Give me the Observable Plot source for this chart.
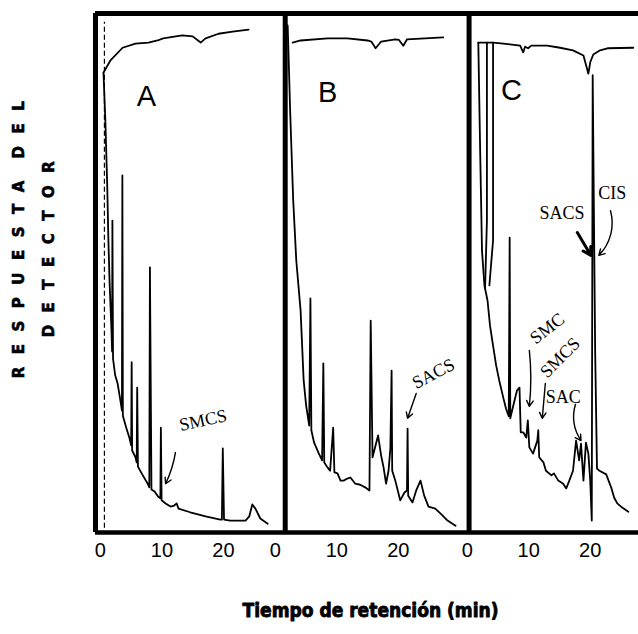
<!DOCTYPE html>
<html>
<head>
<meta charset="utf-8">
<script src="https://cdn.jsdelivr.net/npm/d3@7"></script>
<script src="https://cdn.jsdelivr.net/npm/@observablehq/plot@0.6"></script>
<style>
  html, body { margin: 0; padding: 0; background: #fff; overflow: hidden; }
</style>
</head>
<body>
<div id="chart"></div>
<script>
// Three chromatograms (A, B, C) recorded one after another on the same chart strip.
const runs = ["A", "B", "C"];
const tickMinutes = [0, 10, 20];

// Pen start stroke of each run, in run time (min)
const runStart = [-0.8, 1.6, 0.3];
// Dashed injection marker of run A (min)
const markA = [0.65];

// [retention time (min), detector response (% of full scale)]
const runAUpper = [[0.5,88.6],[1.6,90.9],[3.6,93.4],[5.7,94.2],[7.8,94.4],[9.3,94.8],[10.2,95.2],
  [13.3,95.8],[15.0,95.6],[16.3,94.4],[17.1,95.2],[19.2,96.1],[21.5,96.5],[24.1,96.9]];
const runALower = [[0.5,88.6],[0.8,79.4],[1.1,67.2],[1.3,56.2],[1.5,47.9],[1.8,38.9],[1.9,34.9],
  [1.95,60.1],[2.05,33.5],[2.4,30.3],[2.8,28.7],[3.25,25.4],[3.5,23.5],[3.57,68.8],[3.65,22.5],
  [4.2,20.2],[4.7,18.3],[5.0,16.8],[5.08,32.8],[5.16,15.8],[5.7,14.5],[5.9,13.5],[5.98,27.9],
  [6.1,12.7],[6.8,11.2],[7.6,9.6],[7.95,8.7],[8.05,51.1],[8.3,8.3],[8.8,7.9],[9.4,6.9],[9.75,6.6],
  [9.83,20.2],[9.95,6.2],[10.6,5.6],[11.4,5.0],[12.0,5.2],[12.4,5.6],[12.7,4.6],[14.6,3.9],
  [17.1,3.1],[19.5,2.5],[19.75,2.5],[19.9,16.2],[20.1,2.5],[21.1,2.3],[23.6,2.3],[24.2,3.1],
  [24.7,5.4],[25.2,4.6],[26.0,2.7],[27.2,1.7]];

const runBUpper = [[2.8,94.4],[4.1,94.8],[8.5,95.2],[11.7,95.2],[15.0,94.8],[15.6,94.6],[16.3,93.3],
  [17.2,94.6],[19.5,95.0],[20.1,94.9],[20.8,93.8],[21.4,95.0],[27.3,95.4]];
const runBLower = [[2.0,97.7],[2.1,93.8],[2.4,81.3],[2.9,64.0],[3.4,52.4],[4.1,42.8],[4.6,29.3],
  [5.0,24.5],[5.5,20.6],[5.7,45.1],[5.85,19.7],[6.3,17.3],[7.0,15.4],[7.6,13.9],[7.8,32.6],
  [7.95,13.5],[8.5,12.5],[8.9,11.9],[9.4,20.2],[9.6,11.6],[10.1,11.4],[10.6,10.0],[11.1,10.0],
  [11.7,10.4],[12.2,10.6],[13.0,9.4],[13.8,9.2],[14.6,8.7],[15.3,8.1],[15.5,40.8],[15.8,14.5],
  [16.3,16.8],[16.7,18.7],[17.2,14.8],[17.6,12.5],[18.0,9.4],[18.4,11.9],[18.7,16.2],[18.9,31.2],
  [19.0,11.9],[19.5,10.0],[20.3,6.2],[21.0,7.7],[21.4,8.1],[21.5,20.0],[21.6,7.1],[22.3,5.8],
  [22.9,8.1],[23.6,10.0],[24.2,7.1],[24.9,5.0],[26.0,4.6],[27.0,3.5],[28.0,2.3],[29.3,1.3]];

const runCUpper = [[1.8,94.4],[4.2,94.4],[5.9,94.2],[8.6,93.8],[9.1,92.5],[9.4,93.6],[9.9,93.3],
  [10.4,93.8],[13.0,93.8],[15.1,93.4],[17.2,92.9],[18.9,91.9],[19.7,88.4],[20.0,90.6],[20.5,92.1],
  [21.6,92.9],[22.8,93.3],[27.0,93.4]];
const runCLower = [[1.8,94.4],[2.1,73.6],[2.4,54.3],[2.8,47.6],[3.3,44.7],[3.7,39.9],[4.2,36.0],
  [4.7,32.2],[5.2,29.3],[5.9,25.8],[6.3,23.9],[6.75,22.4],[6.9,56.8],[7.0,22.0],[7.6,25.0],
  [8.1,27.4],[8.5,27.9],[8.7,19.3],[9.1,19.3],[9.6,18.3],[9.85,21.6],[10.1,16.4],[10.7,15.2],
  [11.4,17.7],[11.55,19.7],[11.7,14.5],[12.4,13.5],[12.8,11.9],[13.7,11.0],[14.1,11.4],[14.8,10.0],
  [15.6,9.4],[16.1,8.5],[16.6,10.0],[17.2,11.9],[17.7,17.7],[18.2,13.9],[18.5,17.1],[18.9,10.0],
  [19.3,17.3],[19.7,15.2],[20.0,10.0],[20.25,2.3],[20.4,88.1],[20.8,35.1],[21.1,12.3],[21.5,11.9],
  [22.6,11.2],[23.4,8.7],[23.9,6.7],[24.4,5.6],[25.2,4.8],[26.2,4.0]];
const runCFront = [[4.2,94.4],[4.2,56.3],[3.6,47.6]];
const runCFrontInner = [[3.2,94.4],[3.2,60.0],[2.9,47.0]];

// Run letters: [time, response]
const letterAt = [[7.5,84.0],[8.5,84.8],[7.2,85.2]];

// Peak identifications
const peakNames = ["SMCS", "SACS", "SACS", "CIS", "SMC", "SMCS", "SAC"];
const peakRun = ["A", "B", "C", "C", "C", "C", "C"];
const labelAt = [[16.7,21.6],[25.7,30.6],[15.4,61.5],[23.6,65.3],[13.0,39.3],[15.1,33.7],[15.6,26.0]];
const arrowFrom = [[12.2,15.4],[22.9,26.8],[17.9,57.8],[23.3,62.0],[10.1,35.1],[12.7,28.7],[17.6,24.7]];
const arrowTo = [[10.6,9.4],[21.5,22.0],[20.1,53.4],[21.4,53.4],[10.1,24.3],[12.2,22.0],[18.5,17.7]];

// ---- layout: each run is shifted along the strip so the three sit side by side
const runOffset = {A: 0, B: 28.45, C: 59.65};
const stripX = (run, t) => t + runOffset[run];

const strokes = [
  ["A", "upper", runAUpper], ["A", "lower", runALower],
  ["B", "upper", runBUpper], ["B", "lower", runBLower],
  ["C", "upper", runCUpper], ["C", "lower", runCLower],
  ["C", "front", runCFront], ["C", "frontInner", runCFrontInner]
];
const traceRows = strokes.flatMap(([run, part, pts]) =>
  pts.map(([t, v]) => ({id: run + part, x: stripX(run, t), v})));

const tickRows = runs.flatMap(run => tickMinutes.map(m => ({pos: stripX(run, m), label: String(m)})));
const tickLabel = new Map(tickRows.map(d => [d.pos, d.label]));

const startRows = runs.map((run, i) => ({x: stripX(run, runStart[i])}));
const letterRows = runs.map((run, i) => ({run, x: stripX(run, letterAt[i][0]), v: letterAt[i][1]}));

const labelAngle = [-12, -28, 0, 0, -38, -45, 0];
const arrowBend = [8, 0, 0, 30, 6, 0, -25];
const arrowWidth = [1.4, 1.4, 3, 1.4, 1.4, 1.4, 1.4];

const labelRows = peakNames.map((name, i) => ({
  name, x: stripX(peakRun[i], labelAt[i][0]), v: labelAt[i][1], angle: labelAngle[i]
}));
const arrowMarks = peakNames.map((name, i) => Plot.arrow([i], {
  x1: () => stripX(peakRun[i], arrowFrom[i][0]), y1: () => arrowFrom[i][1],
  x2: () => stripX(peakRun[i], arrowTo[i][0]), y2: () => arrowTo[i][1],
  bend: arrowBend[i], strokeWidth: arrowWidth[i], headLength: 7, stroke: "black"
}));

const chart = Plot.plot({
  width: 638,
  height: 634,
  marginLeft: 95,
  marginRight: 0,
  marginTop: 13,
  marginBottom: 102,
  x: {domain: [-0.8, 87.5]},
  y: {domain: [0, 100], axis: null},
  style: {fontFamily: "Liberation Sans, Arial, sans-serif", fontSize: "20px", color: "black", background: "white"},
  marks: [
    Plot.ruleY([100], {strokeWidth: 5}),
    Plot.ruleY([0], {strokeWidth: 4.5}),
    Plot.ruleX(startRows, {x: "x", strokeWidth: 5}),
    Plot.ruleX(markA, {x: d => stripX("A", d), y1: 0.8, y2: 98.3, strokeWidth: 1.2, strokeDasharray: "5,3"}),
    Plot.line(traceRows, {x: "x", y: "v", z: "id", stroke: "black", strokeWidth: 1.8, strokeLinejoin: "round"}),
    Plot.text(letterRows, {x: "x", y: "v", text: "run", fontSize: 29, fontFamily: "Liberation Sans"}),
    Plot.text(labelRows, {x: "x", y: "v", text: "name", rotate: "angle", fontSize: 18, fontFamily: "Liberation Serif, Times New Roman, serif"}),
    ...arrowMarks,
    Plot.axisX(tickRows.map(d => d.pos), {
      tickFormat: d => tickLabel.get(d), tickSize: 0, tickPadding: 10, label: null,
      fontSize: 20, fontFamily: "Liberation Sans"
    }),
    Plot.text(["Tiempo de retención (min)"], {
      text: d => d, frameAnchor: "bottom", dx: 3.5, dy: 84,
      fontFamily: "DejaVu Sans Condensed, DejaVu Sans", fontWeight: "bold", fontSize: 19,
      fill: "black", stroke: "black", strokeWidth: 0.8
    }),
    Plot.text(["RESPUESTA DEL"], {
      text: d => d, frameAnchor: "left", textAnchor: "middle", dx: -76, dy: -39.5, rotate: -90,
      fontFamily: "DejaVu Sans", fontWeight: "bold", fontSize: 15,
      fill: "black", stroke: "black", strokeWidth: 0.6
    }),
    Plot.text(["DETECTOR"], {
      text: d => d, frameAnchor: "left", textAnchor: "middle", dx: -46, dy: -30, rotate: -90,
      fontFamily: "DejaVu Sans", fontWeight: "bold", fontSize: 15,
      fill: "black", stroke: "black", strokeWidth: 0.6
    })
  ]
});

// widely spaced letters of the vertical response label
d3.select(chart).selectAll("text")
  .filter(function () { return this.textContent === "RESPUESTA DEL" || this.textContent === "DETECTOR"; })
  .style("letter-spacing", "12.5px")
  .style("word-spacing", "-8px");

document.getElementById("chart").append(chart);
</script>
</body>
</html>
